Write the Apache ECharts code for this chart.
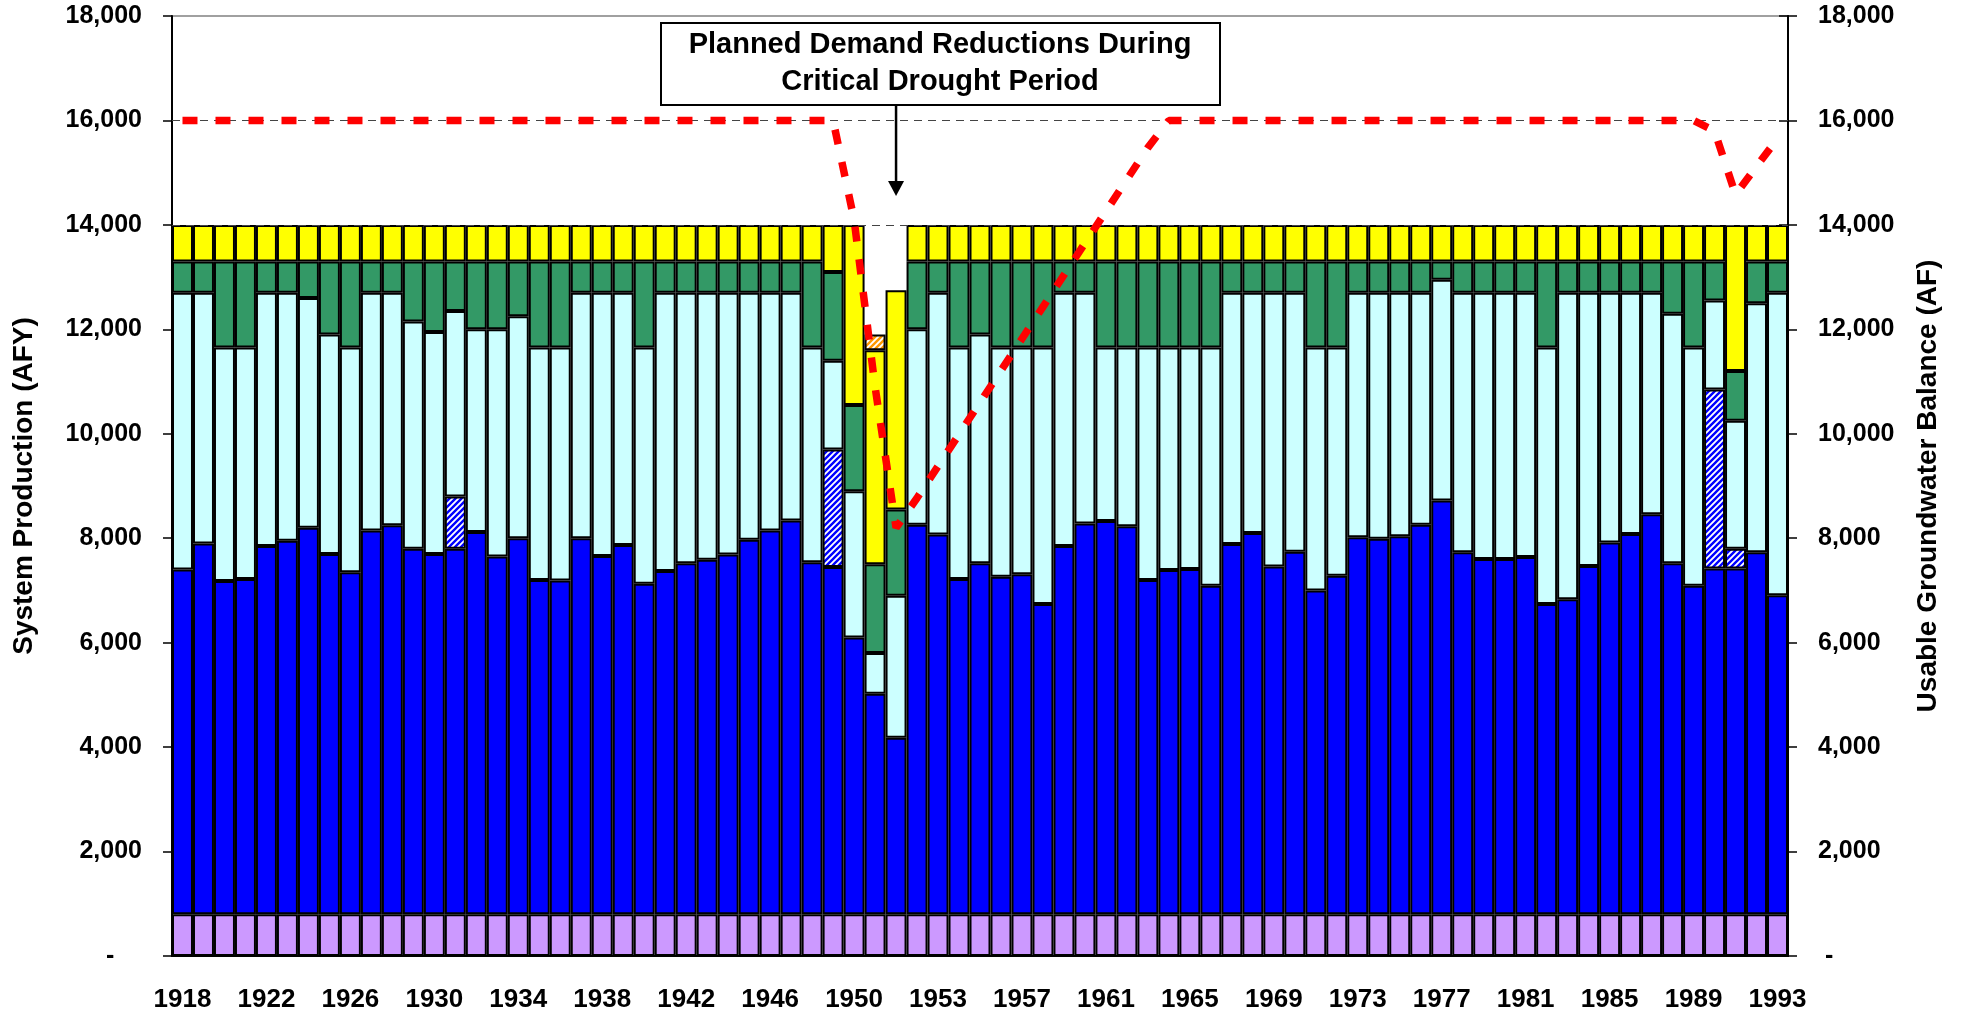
<!DOCTYPE html>
<html>
<head>
<meta charset="utf-8">
<script src="https://cdn.jsdelivr.net/npm/echarts@6/dist/echarts.min.js"></script>
<style>
html, body { margin: 0; padding: 0; background: #fff; }
#chart { width: 1963px; height: 1017px; }
</style>
</head>
<body>
<div id="chart"></div>
<script>
// categories (one extra drought step between 1950 and 1953)
var years = ['1918','1919','1920','1921','1922','1923','1924','1925','1926','1927',
  '1928','1929','1930','1931','1932','1933','1934','1935','1936','1937',
  '1938','1939','1940','1941','1942','1943','1944','1945','1946','1947',
  '1948','1949','1950','1951','1951b','1952','1953','1954','1955','1956',
  '1957','1958','1959','1960','1961','1962','1963','1964','1965','1966',
  '1967','1968','1969','1970','1971','1972','1973','1974','1975','1976',
  '1977','1978','1979','1980','1981','1982','1983','1984','1985','1986',
  '1987','1988','1989','1990','1991','1992','1993'];

// top of each stacked layer (AFY)
var purpleTop = [800,800,800,800,800,800,800,800,800,800,
  800,800,800,800,800,800,800,800,800,800,
  800,800,800,800,800,800,800,800,800,800,
  800,800,800,800,800,800,800,800,800,800,
  800,800,800,800,800,800,800,800,800,800,
  800,800,800,800,800,800,800,800,800,800,
  800,800,800,800,800,800,800,800,800,800,
  800,800,800,800,800,800,800];

var blueTop = [7400,7900,7180,7220,7850,7950,8200,7700,7350,8150,
  8250,7800,7700,7800,8120,7650,8000,7200,7190,8000,
  7660,7870,7130,7370,7520,7590,7690,7970,8150,8340,
  7540,7450,6100,5020,4180,8260,8070,7220,7520,7260,
  7310,6740,7850,8280,8330,8230,7200,7390,7410,7090,
  7890,8100,7460,7740,7000,7280,8020,7990,8040,8260,
  8720,7730,7600,7600,7640,6740,6830,7470,7920,8080,
  8460,7520,7090,7420,7420,7730,6910];

var hatchTop = [7400,7900,7180,7220,7850,7950,8200,7700,7350,8150,
  8250,7800,7700,8800,8120,7650,8000,7200,7190,8000,
  7660,7870,7130,7370,7520,7590,7690,7970,8150,8340,
  7540,9700,6100,5020,4180,8260,8070,7220,7520,7260,
  7310,6740,7850,8280,8330,8230,7200,7390,7410,7090,
  7890,8100,7460,7740,7000,7280,8020,7990,8040,8260,
  8720,7730,7600,7600,7640,6740,6830,7470,7920,8080,
  8460,7520,7090,10850,7800,7730,6910];

var cyanTop = [12700,12700,11650,11650,12700,12700,12600,11900,11650,12700,
  12700,12150,11950,12350,12000,12000,12250,11650,11650,12700,
  12700,12700,11650,12700,12700,12700,12700,12700,12700,12700,
  11650,11400,8900,5800,6900,12000,12700,11650,11900,11650,
  11650,11650,12700,12700,11650,11650,11650,11650,11650,11650,
  12700,12700,12700,12700,11650,11650,12700,12700,12700,12700,
  12950,12700,12700,12700,12700,11650,12700,12700,12700,12700,
  12700,12300,11650,12550,10250,12500,12700];

var greenTop = [13300,13300,13300,13300,13300,13300,13300,13300,13300,13300,
  13300,13300,13300,13300,13300,13300,13300,13300,13300,13300,
  13300,13300,13300,13300,13300,13300,13300,13300,13300,13300,
  13300,13100,10550,7500,8550,13300,13300,13300,13300,13300,
  13300,13300,13300,13300,13300,13300,13300,13300,13300,13300,
  13300,13300,13300,13300,13300,13300,13300,13300,13300,13300,
  13300,13300,13300,13300,13300,13300,13300,13300,13300,13300,
  13300,13300,13300,13300,11200,13300,13300];

var yellowTop = [14000,14000,14000,14000,14000,14000,14000,14000,14000,14000,
  14000,14000,14000,14000,14000,14000,14000,14000,14000,14000,
  14000,14000,14000,14000,14000,14000,14000,14000,14000,14000,
  14000,14000,14000,11600,12750,14000,14000,14000,14000,14000,
  14000,14000,14000,14000,14000,14000,14000,14000,14000,14000,
  14000,14000,14000,14000,14000,14000,14000,14000,14000,14000,
  14000,14000,14000,14000,14000,14000,14000,14000,14000,14000,
  14000,14000,14000,14000,14000,14000,14000];

var orangeTop = [14000,14000,14000,14000,14000,14000,14000,14000,14000,14000,
  14000,14000,14000,14000,14000,14000,14000,14000,14000,14000,
  14000,14000,14000,14000,14000,14000,14000,14000,14000,14000,
  14000,14000,14000,11900,12750,14000,14000,14000,14000,14000,
  14000,14000,14000,14000,14000,14000,14000,14000,14000,14000,
  14000,14000,14000,14000,14000,14000,14000,14000,14000,14000,
  14000,14000,14000,14000,14000,14000,14000,14000,14000,14000,
  14000,14000,14000,14000,14000,14000,14000];

// usable groundwater balance (AF), right axis
var balance = [16000,16000,16000,16000,16000,16000,16000,16000,16000,16000,
  16000,16000,16000,16000,16000,16000,16000,16000,16000,16000,
  16000,16000,16000,16000,16000,16000,16000,16000,16000,16000,
  16000,16000,14100,10900,8200,8770,9380,9990,10600,11210,
  11820,12430,13040,13650,14260,14870,15480,16000,16000,16000,
  16000,16000,16000,16000,16000,16000,16000,16000,16000,16000,
  16000,16000,16000,16000,16000,16000,16000,16000,16000,16000,
  16000,16000,16000,15800,14580,15120,15650];

var font = "'Liberation Sans', Arial, sans-serif";

function seg(top, bottom) {
  return top.map(function (v, i) {
    var d = v - bottom[i];
    return d > 0 ? d : '-';
  });
}

// diagonal hatch tile
function hatch(color) {
  var c = document.createElement('canvas');
  c.width = 6; c.height = 6;
  var g = c.getContext('2d');
  g.fillStyle = '#fff';
  g.fillRect(0, 0, 6, 6);
  g.strokeStyle = color;
  g.lineWidth = 2.4;
  g.beginPath();
  g.moveTo(-1, 7); g.lineTo(7, -1);
  g.moveTo(-4, 4); g.lineTo(4, -4);
  g.moveTo(2, 10); g.lineTo(10, 2);
  g.stroke();
  return c;
}

function barSeries(name, data, color) {
  return {
    name: name,
    type: 'bar',
    stack: 'prod',
    barCategoryGap: '0%',
    data: data,
    itemStyle: { color: color, borderColor: '#000', borderWidth: 2 }
  };
}

var myChart = echarts.init(document.getElementById('chart'));

var option = {
  animation: false,
  grid: {
    left: 172, right: 175, top: 16, bottom: 61,
    show: true, borderColor: '#a0a0a0', borderWidth: 2
  },
  xAxis: {
    type: 'category',
    data: years,
    axisLine: { lineStyle: { color: '#000', width: 2 } },
    axisTick: { interval: 0, length: 9, lineStyle: { color: '#333', width: 1.5 } },
    axisLabel: {
      interval: 3, margin: 31, color: '#000',
      fontSize: 26, fontWeight: 'bold', fontFamily: font
    }
  },
  yAxis: [
    {
      type: 'value', position: 'left', min: 0, max: 18000, interval: 2000,
      name: 'System Production (AFY)', nameLocation: 'middle', nameGap: 134, nameRotate: 90,
      nameTextStyle: { fontSize: 28, fontWeight: 'bold', fontFamily: font, color: '#000' },
      axisLine: { show: true, lineStyle: { color: '#000', width: 2 } },
      axisTick: { show: true, length: 9, lineStyle: { color: '#000', width: 1.5 } },
      splitLine: { show: false },
      axisLabel: {
        margin: 30, color: '#000', fontSize: 25, fontWeight: 'bold', fontFamily: font,
        formatter: function (v) { return v === 0 ? '-    ' : v.toLocaleString('en-US'); }
      }
    },
    {
      type: 'value', position: 'right', min: 0, max: 18000, interval: 2000,
      name: 'Usable Groundwater Balance (AF)', nameLocation: 'middle', nameGap: 126, nameRotate: 90,
      nameTextStyle: { fontSize: 28, fontWeight: 'bold', fontFamily: font, color: '#000' },
      axisLine: { show: true, lineStyle: { color: '#000', width: 2 } },
      axisTick: { show: true, length: 9, lineStyle: { color: '#000', width: 1.5 } },
      splitLine: { show: false },
      axisLabel: {
        margin: 30, color: '#000', fontSize: 25, fontWeight: 'bold', fontFamily: font,
        formatter: function (v) { return v === 0 ? ' -' : v.toLocaleString('en-US'); }
      }
    },
    {
      // inner half of the right-hand cross ticks
      type: 'value', position: 'right', min: 0, max: 18000, interval: 2000,
      axisLine: { show: false },
      axisTick: { show: true, inside: true, length: 9, lineStyle: { color: '#000', width: 1.5 } },
      axisLabel: { show: false },
      splitLine: { show: false }
    }
  ],
  series: [
    barSeries('Base', purpleTop, '#cc99ff'),
    barSeries('Groundwater', seg(blueTop, purpleTop), '#0000ff'),
    barSeries('Groundwater (extra)', seg(hatchTop, blueTop), { image: hatch('#0000ff'), repeat: 'repeat' }),
    barSeries('Supply 3', seg(cyanTop, hatchTop), '#ccffff'),
    barSeries('Supply 4', seg(greenTop, cyanTop), '#339966'),
    barSeries('Supply 5', seg(yellowTop, greenTop), '#ffff00'),
    barSeries('Shortage', seg(orangeTop, yellowTop), { image: hatch('#ff9900'), repeat: 'repeat' }),
    {
      name: 'Usable Groundwater Balance',
      type: 'line',
      yAxisIndex: 1,
      z: 10,
      data: balance,
      symbol: 'none',
      lineStyle: { color: '#ff0000', width: 7.5, type: [15, 18], cap: 'butt' },
      markLine: {
        silent: true,
        z: 3,
        symbol: 'none',
        label: { show: false },
        lineStyle: { color: '#444', width: 1.2, type: [8, 6] },
        data: [{ yAxis: 16000 }, { yAxis: 14000 }]
      }
    }
  ]
};
myChart.setOption(option);

// callout box and arrow pointing at the drought bars
var ax = myChart.convertToPixel({ xAxisIndex: 0 }, 34);
myChart.setOption({
  graphic: [
    {
      type: 'rect', z: 20,
      shape: { x: 661, y: 23, width: 559, height: 82 },
      style: { fill: '#fff', stroke: '#000', lineWidth: 2 }
    },
    {
      type: 'text', z: 21, x: 940, y: 63,
      style: {
        text: 'Planned Demand Reductions During\nCritical Drought Period',
        align: 'center', verticalAlign: 'middle',
        fontSize: 29, fontWeight: 'bold', fontFamily: font,
        lineHeight: 37, fill: '#000'
      }
    },
    {
      type: 'line', z: 20,
      shape: { x1: ax, y1: 105, x2: ax, y2: 184 },
      style: { stroke: '#000', lineWidth: 2.5 }
    },
    {
      type: 'polygon', z: 20,
      shape: { points: [[ax - 8, 181], [ax + 8, 181], [ax, 196]] },
      style: { fill: '#000' }
    }
  ]
});
</script>
</body>
</html>
